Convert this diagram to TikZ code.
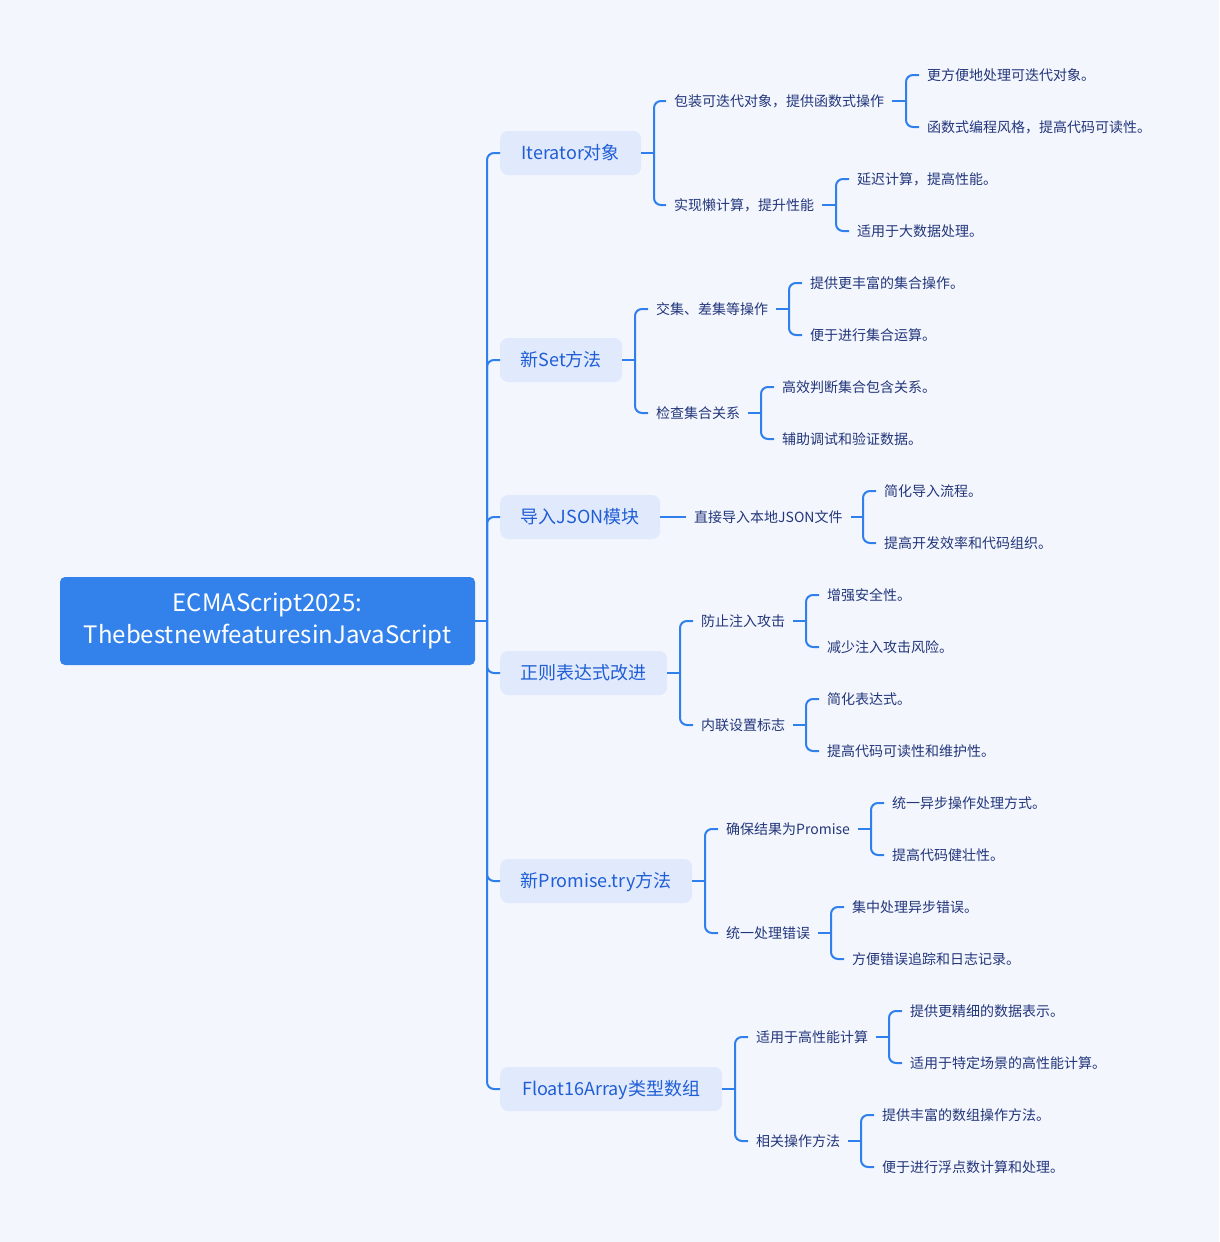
\documentclass[tikz,border=0pt]{standalone}
\usepackage{fontspec}
\setmainfont{Noto Sans CJK SC}
\definecolor{bg}{HTML}{F4F6FE}
\definecolor{rootblue}{HTML}{3382EC}
\definecolor{lonefill}{HTML}{E1E9FD}
\definecolor{lonetext}{HTML}{1F5ED4}
\definecolor{ltext}{HTML}{22367A}
\definecolor{lineblue}{HTML}{2F80ED}
\newcommand\joinkids[5]{%
  \draw[conn] ([xshift=#3]#1.east) -- (#1.east -| #2,0);
  \foreach \k in {#5}{\draw[conn] (#1.east -| #2,0) |- ([xshift=-#4]\k.west);}
}
\begin{document}
\begin{tikzpicture}[x=1pt,y=-1pt,
  rootbox/.style={fill=rootblue, rounded corners=5pt, text=white, font=\fontsize{24}{32}\selectfont, align=center, minimum width=415pt, minimum height=88pt, inner sep=0pt},
  lone/.style={fill=lonefill, rounded corners=8pt, text=lonetext, font=\fontsize{18}{22}\selectfont, minimum height=44pt, inner sep=0pt, text height=17.6pt, text depth=4pt, anchor=west},
  ltwo/.style={text=ltext, font=\fontsize{14}{17}\selectfont, inner sep=0pt, text height=13.7pt, text depth=3.1pt, anchor=west},
  conn/.style={draw=lineblue, line width=2pt, rounded corners=7pt}]
\useasboundingbox (0,0) rectangle (1219,1242);
\fill[bg] (0,0) rectangle (1219,1242);
\node[rootbox] (root) at (267.5,621) {ECMAScript2025:\\ThebestnewfeaturesinJavaScript};
% level 1
\node[lone, minimum width=141pt] (a) at (500,153) {Iterator对象};
\node[lone, minimum width=122pt] (b) at (500,360) {新Set方法};
\node[lone, minimum width=160pt] (c) at (500,517) {导入JSON模块};
\node[lone, minimum width=167pt] (d) at (500,673) {正则表达式改进};
\node[lone, minimum width=192pt] (e) at (500,881) {新Promise.try方法};
\node[lone, minimum width=222pt] (f) at (500,1089) {Float16Array类型数组};
% level 2
\node[ltwo] (a1) at (674,101) {包装可迭代对象，提供函数式操作};
\node[ltwo] (a2) at (674,205) {实现懒计算，提升性能};
\node[ltwo] (b1) at (656,309) {交集、差集等操作};
\node[ltwo] (b2) at (656,413) {检查集合关系};
\node[ltwo] (c1) at (694,517) {直接导入本地JSON文件};
\node[ltwo] (d1) at (701,621) {防止注入攻击};
\node[ltwo] (d2) at (701,725) {内联设置标志};
\node[ltwo] (e1) at (726,829) {确保结果为Promise};
\node[ltwo] (e2) at (726,933) {统一处理错误};
\node[ltwo] (f1) at (756,1037) {适用于高性能计算};
\node[ltwo] (f2) at (756,1141) {相关操作方法};
% level 3
\node[ltwo] (a11) at (927,75) {更方便地处理可迭代对象。};
\node[ltwo] (a12) at (927,127) {函数式编程风格，提高代码可读性。};
\node[ltwo] (a21) at (857,179) {延迟计算，提高性能。};
\node[ltwo] (a22) at (857,231) {适用于大数据处理。};
\node[ltwo] (b11) at (810,283) {提供更丰富的集合操作。};
\node[ltwo] (b12) at (810,335) {便于进行集合运算。};
\node[ltwo] (b21) at (782,387) {高效判断集合包含关系。};
\node[ltwo] (b22) at (782,439) {辅助调试和验证数据。};
\node[ltwo] (c11) at (884,491) {简化导入流程。};
\node[ltwo] (c12) at (884,543) {提高开发效率和代码组织。};
\node[ltwo] (d11) at (827,595) {增强安全性。};
\node[ltwo] (d12) at (827,647) {减少注入攻击风险。};
\node[ltwo] (d21) at (827,699) {简化表达式。};
\node[ltwo] (d22) at (827,751) {提高代码可读性和维护性。};
\node[ltwo] (e11) at (892,803) {统一异步操作处理方式。};
\node[ltwo] (e12) at (892,855) {提高代码健壮性。};
\node[ltwo] (e21) at (852,907) {集中处理异步错误。};
\node[ltwo] (e22) at (852,959) {方便错误追踪和日志记录。};
\node[ltwo] (f11) at (910,1011) {提供更精细的数据表示。};
\node[ltwo] (f12) at (910,1063) {适用于特定场景的高性能计算。};
\node[ltwo] (f21) at (882,1115) {提供丰富的数组操作方法。};
\node[ltwo] (f22) at (882,1167) {便于进行浮点数计算和处理。};
% connectors
\joinkids{root}{487}{0pt}{0pt}{a,b,c,d,e,f}
\joinkids{a}{654}{0pt}{8pt}{a1,a2}
\joinkids{b}{635}{0pt}{8pt}{b1,b2}
\draw[conn] (c.east) -- ([xshift=-8pt]c1.west);
\joinkids{d}{680}{0pt}{8pt}{d1,d2}
\joinkids{e}{705}{0pt}{8pt}{e1,e2}
\joinkids{f}{735}{0pt}{8pt}{f1,f2}
\joinkids{a1}{906}{8pt}{8pt}{a11,a12}
\joinkids{a2}{836}{8pt}{8pt}{a21,a22}
\joinkids{b1}{789}{8pt}{8pt}{b11,b12}
\joinkids{b2}{761}{8pt}{8pt}{b21,b22}
\joinkids{c1}{863}{8pt}{8pt}{c11,c12}
\joinkids{d1}{806}{8pt}{8pt}{d11,d12}
\joinkids{d2}{806}{8pt}{8pt}{d21,d22}
\joinkids{e1}{871}{8pt}{8pt}{e11,e12}
\joinkids{e2}{831}{8pt}{8pt}{e21,e22}
\joinkids{f1}{889}{8pt}{8pt}{f11,f12}
\joinkids{f2}{861}{8pt}{8pt}{f21,f22}
\end{tikzpicture}
\end{document}
